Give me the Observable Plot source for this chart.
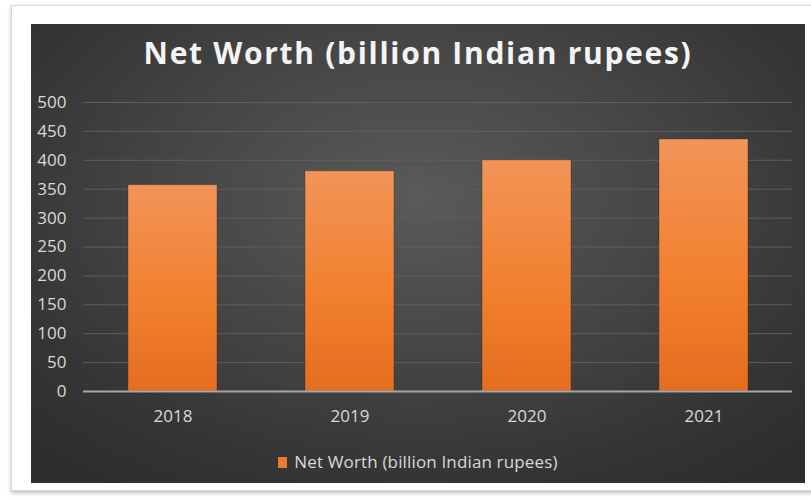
<!DOCTYPE html>
<html>
<head>
<meta charset="utf-8">
<script src="https://cdn.jsdelivr.net/npm/d3@7"></script>
<script src="https://cdn.jsdelivr.net/npm/@observablehq/plot@0.6"></script>
<style>
  html, body { margin: 0; padding: 0; background: #ffffff; width: 811px; height: 501px; overflow: hidden; }
  #frame {
    position: absolute; left: 11px; top: 5px; width: 830px; height: 484px;
    background: #ffffff; border: 1px solid #d6d6d6;
    box-shadow: 0 2px 4px rgba(0,0,0,0.25);
  }
  #panel {
    position: absolute; left: 31px; top: 24px; width: 774px; height: 459px;
    background: radial-gradient(ellipse 70% 75% at 50% 38%, #5a5a5a 0%, #464646 45%, #353535 80%, #2e2e2e 100%);
    overflow: hidden;
  }
  #title {
    position: absolute; left: 0; top: 9px; width: 774px; text-align: center;
    font-family: "Open Sans", sans-serif; font-weight: 700; font-size: 30px; color: #f4f4f4;
    letter-spacing: 1.7px; line-height: 1.362;
  }
  #chart { position: absolute; left: 0; top: 66px; }
  #legend {
    position: absolute; left: 0; top: 426px; width: 774px; text-align: center;
    font-family: "Open Sans", sans-serif; font-size: 17px; color: #d9d9d9; line-height: 24px;
    letter-spacing: 0.15px;
  }
  #legend .sw { display: inline-block; width: 9px; height: 11px; background: #ee7a2d; margin-right: 7px; vertical-align: 0px; }
</style>
</head>
<body>
<div id="frame"></div>
<div id="panel">
  <div id="title"></div>
  <div id="chart"></div>
  <div id="legend"></div>
</div>
<script>
const chartTitle = "Net Worth (billion Indian rupees)";
const seriesName = "Net Worth (billion Indian rupees)";
const years = ["2018", "2019", "2020", "2021"];
const netWorth = [357, 381, 400, 436];
const yTicks = [0, 50, 100, 150, 200, 250, 300, 350, 400, 450, 500];

const data = years.map((y, i) => ({year: y, value: netWorth[i]}));

document.getElementById("title").textContent = chartTitle;
const leg = document.getElementById("legend");
leg.innerHTML = '<span class="sw"></span>';
leg.appendChild(document.createTextNode(seriesName));

const defs = () => {
  const g = d3.create("svg:defs");
  const lg = g.append("linearGradient").attr("id", "barGrad")
    .attr("x1", 0).attr("y1", 0).attr("x2", 0).attr("y2", 1);
  lg.append("stop").attr("offset", "0%").attr("stop-color", "#f29458");
  lg.append("stop").attr("offset", "55%").attr("stop-color", "#f2802f");
  lg.append("stop").attr("offset", "100%").attr("stop-color", "#e56d1f");
  return g.node();
};

const plot = Plot.plot({
  width: 774,
  height: 350,
  marginLeft: 52,
  marginRight: 13,
  marginTop: 12,
  marginBottom: 49,
  style: {background: "transparent", color: "#d9d9d9", fontFamily: "'Open Sans', sans-serif", fontSize: "17px"},
  x: {domain: years, paddingInner: 0.5, paddingOuter: 0.25, label: null},
  y: {domain: [0, 500], label: null},
  marks: [
    defs,
    Plot.gridY(yTicks.filter(d => d > 0), {stroke: "#5e5e5e", strokeOpacity: 1, strokeWidth: 1}),
    Plot.barY(data, {x: "year", y: "value", fill: "url(#barGrad)", stroke: "#2a2a2a", strokeOpacity: 0.35, strokeWidth: 1}),
    Plot.ruleY([0], {stroke: "#a6a6a6", strokeWidth: 2}),
    Plot.axisY(yTicks, {tickSize: 0, tickPadding: 17, label: null, fill: "#d9d9d9", fontSize: 17}),
    Plot.axisX({tickSize: 0, tickPadding: 18, label: null, fill: "#d9d9d9", fontSize: 17})
  ]
});
document.getElementById("chart").appendChild(plot);
</script>
</body>
</html>
